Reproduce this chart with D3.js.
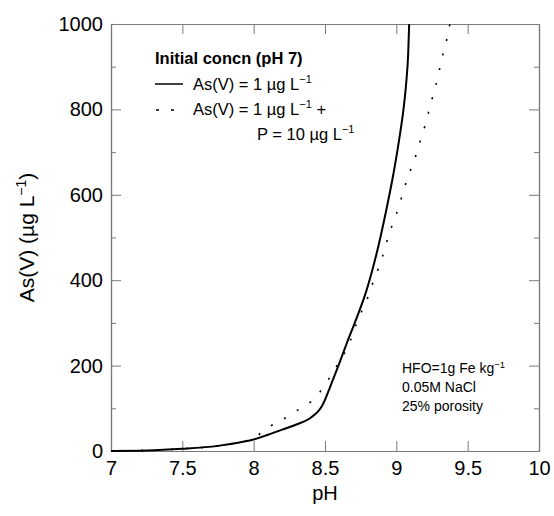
<!DOCTYPE html>
<html>
<head>
<meta charset="utf-8">
<script src="https://cdn.jsdelivr.net/npm/d3@7"></script>
<style>
  body { margin: 0; background: #fff; }
  text { font-family: "Liberation Sans", Arial, sans-serif; }
</style>
</head>
<body>
<div id="canvas"></div>
<script>
// solid line: As(V) = 1 ug/L initial
var phSolid = [7.0, 7.25, 7.5, 7.75, 7.9, 8.0, 8.1, 8.2, 8.3, 8.4, 8.45, 8.48, 8.5, 8.53, 8.6, 8.65, 8.72, 8.79, 8.86, 8.93, 8.98, 9.02, 9.05, 9.07, 9.083, 9.09];
var asSolid = [0, 1, 5, 12, 20, 27, 38, 50, 62, 78, 92, 106, 120, 145, 205, 250, 310, 375, 460, 565, 650, 730, 800, 865, 930, 1000];

// dotted line: As(V) = 1 ug/L + P = 10 ug/L
var phDotted = [7.0, 7.5, 7.75, 7.9, 8.0, 8.1, 8.2, 8.3, 8.4, 8.48, 8.54, 8.6, 8.66, 8.74, 8.79, 8.83, 8.87, 8.91, 8.94, 8.98, 9.02, 9.05, 9.09, 9.13, 9.165, 9.2, 9.23, 9.26, 9.29, 9.315, 9.345, 9.37, 9.375];
var asDotted = [0, 5, 12, 20, 30, 55, 73, 94, 115, 145, 176, 209, 244, 315, 350, 389, 424, 463, 498, 537, 574, 610, 649, 685, 723, 761, 799, 836, 874, 913, 952, 990, 1000];

var xTicks = [7, 7.5, 8, 8.5, 9, 9.5, 10];
var yTicks = [0, 200, 400, 600, 800, 1000];
var yMinor = [100, 300, 500, 700, 900];

var W = 554, H = 516;
var m = {t:24, r:15, b:65, l:111},
    w = W - m.l - m.r,
    h = H - m.t - m.b;

var svg = d3.select('#canvas').append('svg')
    .attr('width', W).attr('height', H);

var plot = svg.append('g')
    .attr('transform', 'translate(' + m.l + ',' + m.t + ')');

var x = d3.scaleLinear().domain([7, 10]).range([0, w]);
var y = d3.scaleLinear().domain([0, 1000]).range([h, 0]);

var grey = '#7a7a7a';

function styleAxis(g){
    g.selectAll('path.domain').attr('stroke', grey).attr('stroke-width', 1.2);
    g.selectAll('.tick line').attr('stroke', grey).attr('stroke-width', 1);
    g.selectAll('.tick text').attr('fill', '#000')
        .style('font-size', '20px')
        .style('font-family', '"Liberation Sans", Arial, sans-serif');
}

// axes, ticks pointing inward
plot.append('g').attr('transform', 'translate(0,' + h + ')')
    .call(d3.axisBottom(x).tickValues(xTicks).tickFormat(d3.format('')).tickSize(-10).tickSizeOuter(0).tickPadding(10))
    .call(styleAxis);
plot.append('g')
    .call(d3.axisTop(x).tickValues(xTicks).tickFormat('').tickSize(-10).tickSizeOuter(0))
    .call(styleAxis);
plot.append('g')
    .call(d3.axisLeft(y).tickValues(yTicks).tickFormat(d3.format('d')).tickSize(-10).tickSizeOuter(0).tickPadding(8))
    .call(styleAxis);
plot.append('g').attr('transform', 'translate(' + w + ',0)')
    .call(d3.axisRight(y).tickValues(yTicks).tickFormat('').tickSize(-10).tickSizeOuter(0))
    .call(styleAxis);
// minor y ticks
plot.append('g')
    .call(d3.axisLeft(y).tickValues(yMinor).tickFormat('').tickSize(-5).tickSizeOuter(0))
    .call(styleAxis);
plot.append('g').attr('transform', 'translate(' + w + ',0)')
    .call(d3.axisRight(y).tickValues(yMinor).tickFormat('').tickSize(-5).tickSizeOuter(0))
    .call(styleAxis);

// curves
var line = d3.line()
    .x(function(d){ return x(d[0]); })
    .y(function(d){ return y(d[1]); })
    .curve(d3.curveMonotoneX);

var solid = d3.zip(phSolid, asSolid);
var dotted = d3.zip(phDotted, asDotted);

plot.append('path').datum(dotted)
    .attr('d', line)
    .attr('fill', 'none')
    .attr('stroke', '#000')
    .attr('stroke-width', 1.6)
    .attr('stroke-dasharray', '2,13');

plot.append('path').datum(solid)
    .attr('d', line)
    .attr('fill', 'none')
    .attr('stroke', '#000')
    .attr('stroke-width', 2);

// axis titles
svg.append('text')
    .attr('x', m.l + w / 2).attr('y', 500)
    .attr('text-anchor', 'middle')
    .style('font-size', '20px')
    .text('pH');

var yt = svg.append('text')
    .attr('transform', 'translate(34,' + (m.t + h / 2) + ') rotate(-90)')
    .attr('text-anchor', 'middle')
    .style('font-size', '21px');
yt.append('tspan').text('As(V) (\u00b5g L');
yt.append('tspan').attr('dy', -8).style('font-size', '14px').text('\u22121');
yt.append('tspan').attr('dy', 8).text(')');

// legend
var lg = svg.append('g').style('font-size', '16.5px');
lg.append('text').attr('x', 155).attr('y', 64)
    .style('font-weight', 'bold').text('Initial concn (pH 7)');

lg.append('line').attr('x1', 155).attr('x2', 183).attr('y1', 84).attr('y2', 84)
    .attr('stroke', '#000').attr('stroke-width', 1.5);
var t1 = lg.append('text').attr('x', 193).attr('y', 90);
t1.append('tspan').text('As(V) = 1 \u00b5g L');
t1.append('tspan').attr('dy', -7).style('font-size', '11px').text('\u22121');

lg.append('line').attr('x1', 156).attr('x2', 183).attr('y1', 110).attr('y2', 110)
    .attr('stroke', '#000').attr('stroke-width', 1.5).attr('stroke-dasharray', '3,12');
var t2 = lg.append('text').attr('x', 193).attr('y', 115);
t2.append('tspan').text('As(V) = 1 \u00b5g L');
t2.append('tspan').attr('dy', -7).style('font-size', '11px').text('\u22121');
t2.append('tspan').attr('dy', 7).text(' +');

var t3 = lg.append('text').attr('x', 257).attr('y', 140);
t3.append('tspan').text('P = 10 \u00b5g L');
t3.append('tspan').attr('dy', -7).style('font-size', '11px').text('\u22121');

// conditions note
var note = svg.append('g').style('font-size', '14px');
var n1 = note.append('text').attr('x', 402).attr('y', 373);
n1.append('tspan').text('HFO=1g Fe kg');
n1.append('tspan').attr('dy', -5).style('font-size', '9.5px').text('\u22121');
note.append('text').attr('x', 402).attr('y', 392).text('0.05M NaCl');
note.append('text').attr('x', 402).attr('y', 411).text('25% porosity');
</script>
</body>
</html>
